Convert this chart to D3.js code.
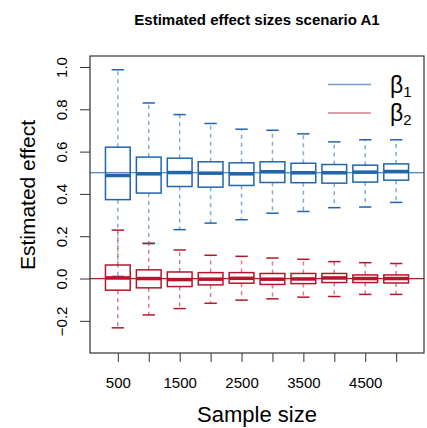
<!DOCTYPE html>
<html><head><meta charset="utf-8">
<script src="https://cdn.jsdelivr.net/npm/d3@7"></script>
<style>
body{margin:0;background:#fff;}
text{font-family:"Liberation Sans",Arial,Helvetica,sans-serif;}
</style></head>
<body><svg id="c" width="427" height="428"></svg>
<script>
const sampleSizes = [500,1000,1500,2000,2500,3000,3500,4000,4500,5000];
const tickLabels = ["500","","1500","","2500","","3500","","4500",""];
const yTicks = [-0.2,0,0.2,0.4,0.6,0.8,1.0];
// beta1 five-number summaries
const b1Low  = [0.010,0.166,0.231,0.262,0.278,0.309,0.317,0.335,0.338,0.360];
const b1Q1   = [0.373,0.404,0.435,0.432,0.440,0.454,0.453,0.451,0.456,0.465];
const b1Med  = [0.487,0.495,0.501,0.498,0.495,0.505,0.500,0.500,0.503,0.506];
const b1Q3   = [0.621,0.574,0.569,0.552,0.547,0.552,0.545,0.539,0.536,0.542];
const b1High = [0.987,0.830,0.775,0.733,0.706,0.701,0.684,0.646,0.656,0.656];
// beta2 five-number summaries
const b2Low  = [-0.233,-0.172,-0.142,-0.117,-0.102,-0.096,-0.088,-0.085,-0.075,-0.075];
const b2Q1   = [-0.055,-0.044,-0.038,-0.030,-0.022,-0.028,-0.024,-0.019,-0.019,-0.021];
const b2Med  = [0.003,0.000,-0.005,-0.003,0.001,-0.003,-0.002,0.003,0.000,0.000];
const b2Q3   = [0.064,0.041,0.031,0.028,0.028,0.024,0.024,0.024,0.017,0.017];
const b2High = [0.229,0.166,0.135,0.110,0.105,0.097,0.091,0.080,0.075,0.071];
const trueValues = [0.5, 0];
const seriesNames = ["β1","β2"];
const colors = ["#2166ac","#b2182b"];
const legendColors = ["#6f9fd0","#d47c88"];

const svg = d3.select("#c");
const L=90,R=424,T=56,B=353;
const x = d3.scaleLinear().domain([0.1,10.9]).range([L,R]);
const y = d3.scaleLinear().domain([-0.352,1.052]).range([B,T]);

// axes
const xa = d3.axisBottom(x).tickValues(d3.range(1,11)).tickSize(9).tickFormat((d,i)=>tickLabels[i]);
const gx = svg.append("g").attr("transform",`translate(0,${B})`).call(xa);
gx.select(".domain").remove();
gx.selectAll("line").attr("stroke","#333");
gx.selectAll("text").attr("font-size",15).attr("dy",0).attr("y",35).attr("fill","#000");

const ya = d3.axisLeft(y).tickValues(yTicks).tickSize(10).tickFormat(d3.format(".1f"));
const gy = svg.append("g").attr("transform",`translate(${L},0)`).call(ya);
gy.select(".domain").remove();
gy.selectAll("line").attr("stroke","#333");
gy.selectAll(".tick text").each(function(d){
  d3.select(this).attr("x",0).attr("dy",0).attr("text-anchor","middle")
   .attr("transform",`translate(-23,0) rotate(-90)`).attr("font-size",15).attr("fill","#000")
   .text(d<0?"\u22120.2":d3.format(".1f")(d));
});

// reference lines
trueValues.forEach((v,i)=>{
  svg.append("line").attr("x1",L).attr("x2",R).attr("y1",y(v)).attr("y2",y(v))
    .attr("stroke",colors[i]).attr("stroke-width",1.2);
});

function drawBoxes(low,q1,med,q3,high,col){
  const g = svg.append("g");
  const bw = (x(1.4)-x(0.6));
  const cw = bw/2;
  sampleSizes.forEach((s,i)=>{
    const cx = x(i+1);
    g.append("line").attr("x1",cx).attr("x2",cx).attr("y1",y(q3[i])).attr("y2",y(high[i]))
      .attr("stroke",col).attr("stroke-opacity",0.55).attr("stroke-width",1.5).attr("stroke-dasharray","4,4");
    g.append("line").attr("x1",cx).attr("x2",cx).attr("y1",y(q1[i])).attr("y2",y(low[i]))
      .attr("stroke",col).attr("stroke-opacity",0.55).attr("stroke-width",1.5).attr("stroke-dasharray","4,4");
    [high[i],low[i]].forEach(v=>{
      g.append("line").attr("x1",cx-cw/2).attr("x2",cx+cw/2).attr("y1",y(v)).attr("y2",y(v))
        .attr("stroke",col).attr("stroke-width",1.5);
    });
    g.append("rect").attr("x",cx-bw/2).attr("width",bw).attr("y",y(q3[i])).attr("height",y(q1[i])-y(q3[i]))
      .attr("fill","none").attr("stroke",col).attr("stroke-width",1.5);
    g.append("line").attr("x1",cx-bw/2).attr("x2",cx+bw/2).attr("y1",y(med[i])).attr("y2",y(med[i]))
      .attr("stroke",col).attr("stroke-width",3.5);
  });
}
drawBoxes(b1Low,b1Q1,b1Med,b1Q3,b1High,colors[0]);
drawBoxes(b2Low,b2Q1,b2Med,b2Q3,b2High,colors[1]);

// frame
svg.append("rect").attr("x",L).attr("y",T).attr("width",R-L).attr("height",B-T)
  .attr("fill","none").attr("stroke","#333").attr("stroke-width",1.2);

// legend
seriesNames.forEach((n,i)=>{
  const ly = 84.5 + i*28.5;
  svg.append("line").attr("x1",328).attr("x2",371).attr("y1",ly).attr("y2",ly)
    .attr("stroke",legendColors[i]).attr("stroke-width",1.5);
  const t = svg.append("text").attr("x",390).attr("y",ly+8).attr("font-size",23).attr("fill","#000");
  t.append("tspan").text(n[0]);
  t.append("tspan").attr("font-size",15).attr("dy",4).text(n[1]);
});

// titles
svg.append("text").attr("x",(L+R)/2).attr("y",25).attr("text-anchor","middle")
  .attr("font-size",15).attr("font-weight","bold").text("Estimated effect sizes scenario A1");
svg.append("text").attr("x",(L+R)/2).attr("y",422).attr("text-anchor","middle")
  .attr("font-size",22).text("Sample size");
svg.append("text").attr("transform",`translate(35,195) rotate(-90)`).attr("text-anchor","middle")
  .attr("font-size",21).text("Estimated effect");
</script></body></html>
